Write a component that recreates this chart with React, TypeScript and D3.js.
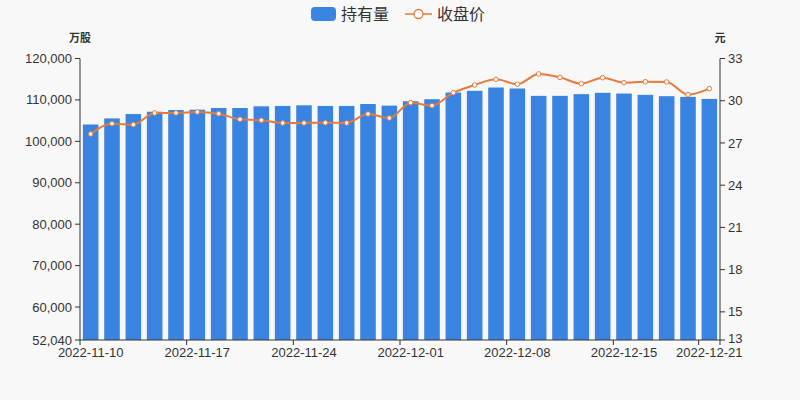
import React from "react";
import * as d3 from "d3";

const dates = [
  "2022-11-10", "2022-11-11", "2022-11-14", "2022-11-15", "2022-11-16", "2022-11-17", "2022-11-18",
  "2022-11-21", "2022-11-22", "2022-11-23", "2022-11-24", "2022-11-25", "2022-11-28", "2022-11-29",
  "2022-11-30", "2022-12-01", "2022-12-02", "2022-12-05", "2022-12-06", "2022-12-07", "2022-12-08",
  "2022-12-09", "2022-12-12", "2022-12-13", "2022-12-14", "2022-12-15", "2022-12-16", "2022-12-19",
  "2022-12-20", "2022-12-21",
];
const holdings = [
  104070, 105540, 106590, 107150, 107560, 107640, 108050, 108050, 108460, 108540,
  108700, 108540, 108540, 109020, 108620, 109680, 110170, 111780, 112200, 113000,
  112760, 110980, 110980, 111390, 111710, 111540, 111220, 110900, 110730, 110240,
];
const closePrice = [
  27.64, 28.37, 28.3, 29.13, 29.13, 29.2, 29.08, 28.68, 28.61, 28.42,
  28.42, 28.44, 28.42, 29.06, 28.77, 29.86, 29.65, 30.57, 31.12, 31.52,
  31.17, 31.9, 31.66, 31.21, 31.64, 31.28, 31.35, 31.33, 30.43, 30.86,
];
const leftTicks = [52040, 60000, 70000, 80000, 90000, 100000, 110000, 120000];
const rightTicks = [13, 15, 18, 21, 24, 27, 30, 33];
const labelIdx = [0, 5, 10, 15, 20, 25, 29];

const W = 800, H = 400;
const L = 80, R = 720, T = 58.5, B = 340;
const BAR = "#3a84e1";
const LINE = "#e8793a";
const TXT = "#333";

export default function App() {
  const x = d3.scaleBand<string>().domain(dates).range([L, R]).paddingInner(0).paddingOuter(0);
  const bw = x.bandwidth();
  const barW = bw * 0.73;
  const yL = d3.scaleLinear().domain([52040, 120000]).range([B, T]);
  const yR = d3.scaleLinear().domain([13, 33]).range([B, T]);
  const fmt = d3.format(",");
  const line = d3
    .line<number>()
    .x((_, i) => (x(dates[i]) as number) + bw / 2)
    .y((d) => yR(d))
    .curve(d3.curveMonotoneX);

  const tickXs = [...labelIdx.map((i) => x(dates[i]) as number), R];

  return (
    <svg width={W} height={H} style={{ position: "absolute", left: 0, top: 0, background: "#f8f8f8" }}
      fontFamily="'Liberation Sans', Arial, sans-serif">
      <rect x={0} y={0} width={W} height={H} fill="#f8f8f8" />
      {/* legend */}
      <g>
        <rect x={311} y={7} width={25} height={14} rx={4} fill={BAR} />
        <text x={341} y={20} fontSize={16} fill={TXT} fontFamily="'Noto Sans CJK SC', sans-serif">持有量</text>
        <line x1={405} x2={432} y1={14} y2={14} stroke={LINE} strokeWidth={1.5} />
        <circle cx={418.5} cy={14} r={4.5} fill="#fff" stroke={LINE} strokeWidth={1.3} />
        <text x={437} y={20} fontSize={16} fill={TXT} fontFamily="'Noto Sans CJK SC', sans-serif">收盘价</text>
      </g>
      {/* bars */}
      {holdings.map((v, i) => (
        <rect key={i} x={(x(dates[i]) as number) + (bw - barW) / 2} y={yL(v)} width={barW} height={B - yL(v)} fill={BAR} />
      ))}
      {/* line */}
      <path d={line(closePrice) || ""} fill="none" stroke={LINE} strokeWidth={2} />
      {closePrice.map((v, i) => (
        <circle key={i} cx={(x(dates[i]) as number) + bw / 2} cy={yR(v)} r={2.3} fill="#fff" stroke={LINE} strokeWidth={1} />
      ))}
      {/* left axis */}
      <line x1={L} x2={L} y1={T} y2={B} stroke={TXT} strokeWidth={1} />
      {leftTicks.map((t) => (
        <g key={t}>
          <line x1={L - 5} x2={L} y1={yL(t)} y2={yL(t)} stroke={TXT} />
          <text x={L - 8} y={yL(t)} dy="0.35em" textAnchor="end" fontSize={13} fill={TXT}>{fmt(t)}</text>
        </g>
      ))}
      <text x={80} y={42} textAnchor="middle" fontSize={11} fontWeight="bold" fill={TXT} fontFamily="'Noto Sans CJK SC', sans-serif">万股</text>
      {/* right axis */}
      <line x1={R} x2={R} y1={T} y2={B} stroke={TXT} strokeWidth={1} />
      {rightTicks.map((t) => (
        <g key={t}>
          <line x1={R} x2={R + 5} y1={yR(t)} y2={yR(t)} stroke={TXT} />
          <text x={R + 8} y={yR(t) - (t === 13 ? 1.5 : 0)} dy="0.35em" textAnchor="start" fontSize={13} fill={TXT}>{t}</text>
        </g>
      ))}
      <text x={720} y={42} textAnchor="middle" fontSize={11} fontWeight="bold" fill={TXT} fontFamily="'Noto Sans CJK SC', sans-serif">元</text>
      {/* x axis */}
      <line x1={L} x2={R} y1={B} y2={B} stroke={TXT} strokeWidth={1} />
      {tickXs.map((tx, i) => (
        <line key={i} x1={tx} x2={tx} y1={B} y2={B + 5} stroke={TXT} />
      ))}
      {labelIdx.map((i) => (
        <text key={i} x={(x(dates[i]) as number) + bw / 2} y={357} textAnchor="middle" fontSize={13} fill={TXT}>{dates[i]}</text>
      ))}
    </svg>
  );
}
